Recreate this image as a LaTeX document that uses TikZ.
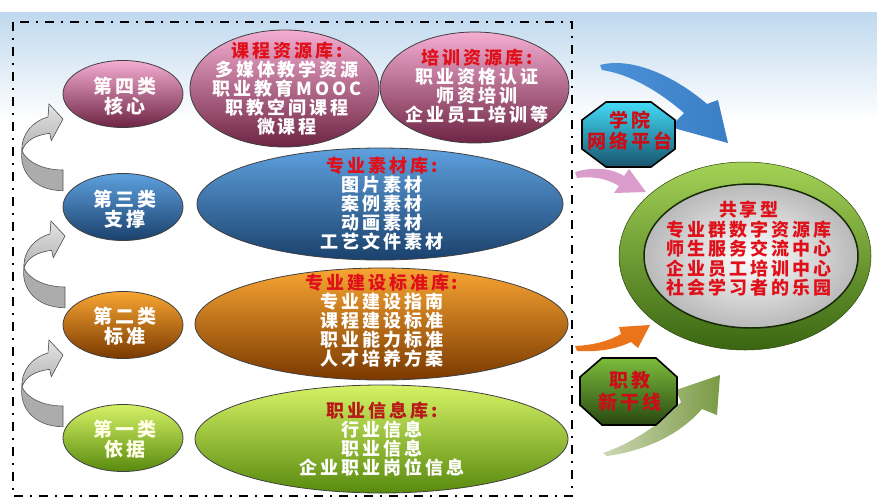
\documentclass[tikz,border=0pt]{standalone}
\usepackage{fontspec}
\setmainfont{Noto Sans CJK SC}[LetterSpace=16]
\usetikzlibrary{shapes.geometric}
\definecolor{bgblue}{HTML}{BFD8EE}
\definecolor{headred}{HTML}{E0101A}
\definecolor{darkred}{HTML}{B81818}
\definecolor{pinkT}{HTML}{F4AED2}
\definecolor{pinkM}{HTML}{C65A92}
\definecolor{pinkB}{HTML}{6E2444}
\definecolor{blueT}{HTML}{5EA0DE}
\definecolor{blueM}{HTML}{2F6EAE}
\definecolor{blueB}{HTML}{1A416C}
\definecolor{orT}{HTML}{F8A632}
\definecolor{orM}{HTML}{E07A10}
\definecolor{orB}{HTML}{7A3800}
\definecolor{grT}{HTML}{D6F266}
\definecolor{grM}{HTML}{A6CE2E}
\definecolor{grB}{HTML}{588A0E}
\definecolor{ringlt}{HTML}{A4D256}
\definecolor{ringdk}{HTML}{3A6612}
\definecolor{cyT}{HTML}{44DAF6}
\definecolor{cyB}{HTML}{17546E}
\definecolor{ogT}{HTML}{7CBC3C}
\definecolor{ogB}{HTML}{284810}
\definecolor{arrblue}{HTML}{3A7EC6}
\definecolor{arrblueL}{HTML}{4C92D8}
\definecolor{arrpink}{HTML}{D99CCB}
\definecolor{arrorange}{HTML}{EA741A}
\definecolor{arrgrL}{HTML}{CCD8B4}
\definecolor{arrgrD}{HTML}{7A9A44}
\tikzset{
  ell/.style={ellipse, draw=black!75, line width=0.8pt, inner sep=0pt},
  pinkfill/.style={top color=pinkT, middle color=pinkM, bottom color=pinkB},
  bluefill/.style={top color=blueT, middle color=blueM, bottom color=blueB},
  orfill/.style={top color=orT, middle color=orM, bottom color=orB},
  grfill/.style={top color=grT, middle color=grM, bottom color=grB},
  txt/.style={font=\bfseries\fontsize{18}{19}\selectfont, align=center, text=white, inner sep=0pt},
  smalltxt/.style={font=\bfseries\fontsize{19}{20}\selectfont, align=center, text=white, inner sep=0pt},
  redtxt/.style={font=\bfseries\fontsize{18}{19.5}\selectfont, align=center, text=headred, inner sep=0pt},
  octtxt/.style={font=\bfseries\fontsize{19}{21}\selectfont, align=center, text=headred!90!black, inner sep=0pt},
  octline/.style={draw=black, line width=1.6pt, line join=miter},
}
\newcommand{\grayarr}[1]{%
  \begin{scope}[shift={#1}]
    \filldraw[draw=black!65, line width=0.6pt, fill=gray!65]
      (0,0) .. controls (-20,0) and (-36,-8) .. (-41,-19)
      .. controls (-44,0) and (-30,20.7) .. (0,20.7) -- cycle;
    \filldraw[draw=black!65, line width=0.6pt, top color=gray!22, bottom color=gray!60]
      (-41,-19) .. controls (-42,-36) and (-30,-49) .. (-15,-53)
      -- (-14,-66) -- (0,-51) -- (-11.7,-29.3) -- (-13.3,-36.7)
      .. controls (-28,-35) and (-38,-29) .. (-41,-19) -- cycle;
  \end{scope}}
\begin{document}
\begin{tikzpicture}[x=1pt,y=-1pt]
\useasboundingbox (0,0) rectangle (877,498);
\fill[white] (0,0) rectangle (877,498);
\shade[top color=bgblue, bottom color=white] (0,12) rectangle (877,120);

% dash-dot frame
\draw[line width=1.8pt, dash pattern=on 9pt off 7pt on 2pt off 7pt] (13,22) rectangle (572,496);

% left category ellipses
\node[ell, pinkfill, minimum width=120pt, minimum height=67pt] (c4) at (123,94) {};
\node[ell, bluefill, minimum width=120pt, minimum height=67pt] (c3) at (123,207) {};
\node[ell, orfill, minimum width=120pt, minimum height=67pt] (c2) at (123,325) {};
\node[ell, grfill, minimum width=120pt, minimum height=67pt] (c1) at (123,438) {};
\node[smalltxt, text=white!92!pink] (t4) at (125,96) {第四类\\核心};
\node[smalltxt] (t3) at (125,209) {第三类\\支撑};
\node[smalltxt] (t2) at (125,326) {第二类\\标准};
\node[smalltxt, text=white!90!yellow] (t1) at (125,439) {第一类\\依据};

% gray curved arrows
\grayarr{(63,170)}
\grayarr{(65,287)}
\grayarr{(63,406)}

% big resource ellipses
\node[ell, pinkfill, minimum width=189pt, minimum height=117pt] (kc) at (284.5,88.5) {};
\node[ell, pinkfill, minimum width=189pt, minimum height=111pt] (px) at (474.5,87.5) {};
\node[ell, bluefill, minimum width=366pt, minimum height=112pt] (sc) at (380,204) {};
\node[ell, orfill, minimum width=373pt, minimum height=112pt] (bz) at (381.5,324) {};
\node[ell, grfill, minimum width=373pt, minimum height=108pt] (zy) at (381.5,439) {};

\node[txt] (tkc) at (287,89) {\textcolor{headred}{课程资源库:}\\多媒体教学资源\\职业教育MOOC\\职教空间课程\\微课程};
\node[txt] (tpx) at (477,86) {\textcolor{headred}{培训资源库:}\\职业资格认证\\师资培训\\企业员工培训等};
\node[txt] (tsc) at (382,204) {\textcolor{headred}{专业素材库:}\\图片素材\\案例素材\\动画素材\\工艺文件素材};
\node[txt] (tbz) at (382,321) {\textcolor{headred}{专业建设标准库:}\\专业建设指南\\课程建设标准\\职业能力标准\\人才培养方案};
\node[txt] (tzy) at (382,439) {\textcolor{darkred}{职业信息库:}\\行业信息\\职业信息\\企业职业岗位信息};

% flow arrows to the right
\shade[left color=arrblueL, right color=arrblue]
  (600,65) .. controls (630,57) and (672,74) .. (707,104) -- (718,100) -- (728,143)
  -- (670,127) -- (684,113) .. controls (660,92) and (630,74) .. (602,70) -- cycle;
\fill[arrpink]
  (575,172) .. controls (595,166) and (613,169) .. (624,176) -- (629,169) -- (646,192)
  -- (614,193) -- (619,186) .. controls (606,178) and (592,176) .. (577,178) -- cycle;
\fill[arrorange]
  (575,346) .. controls (594,345) and (609,341) .. (621,334) -- (619,327) -- (650,325)
  -- (638,348) -- (631,342) .. controls (614,350) and (596,352) .. (577,351) -- cycle;
\shade[left color=arrgrL, right color=arrgrD]
  (603,453) .. controls (630,444) and (660,425) .. (681,402) -- (676,390) -- (720,375)
  -- (717,415) -- (702,409) .. controls (682,432) and (650,450) .. (607,456) -- cycle;

% octagons
\filldraw[octline, top color=cyT, bottom color=cyB]
  (606,102) -- (651,102) -- (675,120) -- (675,149) -- (651,167) -- (606,167)
  -- (582,149) -- (582,120) -- cycle;
\node[octtxt] (o1) at (630,131) {学院\\网络平台};
\filldraw[octline, top color=ogT, bottom color=ogB]
  (602,358) -- (656,358) -- (677,377) -- (677,405) -- (656,425) -- (602,425)
  -- (580,405) -- (580,377) -- cycle;
\node[octtxt, font=\bfseries\fontsize{19}{22}\selectfont] (o2) at (630,391) {职教\\新干线};

% shared ring
\node[ellipse, minimum width=252pt, minimum height=188pt, top color=ringlt, bottom color=ringdk,
      draw=ringdk!70!black, line width=0.5pt, inner sep=0pt] (ring) at (745,256) {};
\node[ellipse, minimum width=214pt, minimum height=144pt, inner color=white, outer color=gray!55,
      draw=ringdk!40!black, line width=1.5pt, inner sep=0pt] (disc) at (751,256) {};
\node[redtxt] (tring) at (749,249) {共享型\\专业群数字资源库\\师生服务交流中心\\企业员工培训中心\\社会学习者的乐园};
\end{tikzpicture}
\end{document}
